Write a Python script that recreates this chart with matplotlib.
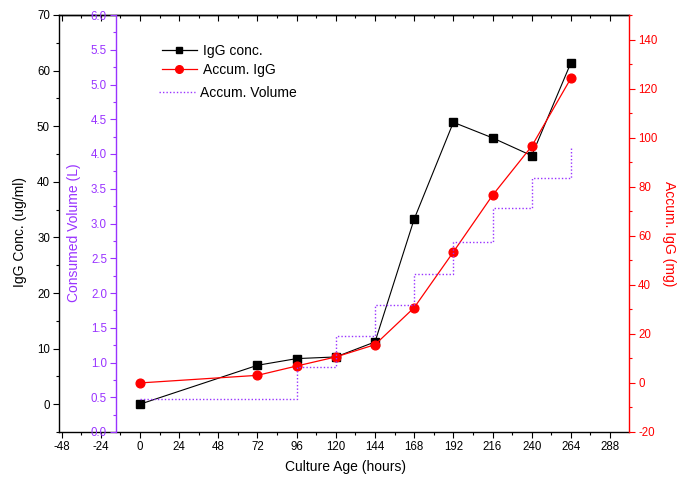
import matplotlib
matplotlib.use('Agg')
import matplotlib.pyplot as plt
from matplotlib.ticker import MultipleLocator, FormatStrFormatter
from matplotlib.lines import Line2D

plt.rcParams['font.family'] = ['Liberation Sans', 'DejaVu Sans']
plt.rcParams['axes.unicode_minus'] = False

# ---- data ----
hours = [0, 72, 96, 120, 144, 168, 192, 216, 240, 264]
igg_conc = [0, 7.0, 8.2, 8.5, 11.2, 33.3, 50.7, 47.9, 44.7, 61.4]
accum_igg = [0, 3.1, 6.9, 10.6, 15.6, 30.7, 53.4, 76.5, 96.5, 124.2]
vol_hours = [0, 96, 120, 144, 168, 192, 216, 240, 264]
accum_volume = [0.48, 0.93, 1.38, 1.83, 2.28, 2.73, 3.22, 3.66, 4.10]
x_ticks = [-48, -24, 0, 24, 48, 72, 96, 120, 144, 168, 192, 216, 240, 264, 288]

PURPLE = '#9933FF'
RED = '#FF0000'
FS_TICK = 8.3
FS_LAB = 10

fig = plt.figure(figsize=(6.78, 4.82), dpi=100)
ax = fig.add_axes([59/678, 50/482, 570/678, 417/482])
axr = ax.twinx()
axv = ax.twinx()

# main (black) axis
ax.plot(hours, igg_conc, color='black', lw=0.8, marker='s', ms=5.3,
        mfc='black', mec='black', zorder=3)
ax.set_xlim(-49.6, 299.6)
ax.set_ylim(-5, 70)
ax.set_xticks(x_ticks)
ax.xaxis.set_minor_locator(MultipleLocator(12))
ax.yaxis.set_major_locator(MultipleLocator(10))
ax.yaxis.set_minor_locator(MultipleLocator(5))
ax.tick_params(axis='both', which='major', direction='out', length=4, width=0.8,
               labelsize=FS_TICK, pad=2.5, right=False, top=False)
ax.tick_params(axis='both', which='minor', direction='out', length=2.5, width=0.8,
               right=False, top=False)
for s in ['left', 'bottom', 'top']:
    ax.spines[s].set_linewidth(1.0)
ax.spines['right'].set_visible(False)
ax.set_xlabel('Culture Age (hours)', fontsize=FS_LAB)
ax.xaxis.set_label_coords(0.502, -0.068)
ax.set_ylabel('IgG Conc. (ug/ml)', fontsize=FS_LAB)
ax.yaxis.set_label_coords(-0.056, 0.48)

# top ticks (inward)
sec = ax.secondary_xaxis('top')
sec.set_xticks(x_ticks)
sec.xaxis.set_minor_locator(MultipleLocator(12))
sec.tick_params(which='major', direction='in', length=4, width=0.8, labeltop=False)
sec.tick_params(which='minor', direction='in', length=2.5, width=0.8)
sec.spines['top'].set_linewidth(1.0)

# red axis (right)
axr.plot(hours, accum_igg, color=RED, lw=0.9, marker='o', ms=6.3,
         mfc=RED, mec=RED, zorder=4)
axr.set_ylim(-20, 150)
axr.yaxis.set_major_locator(MultipleLocator(20))
axr.yaxis.set_minor_locator(MultipleLocator(10))
axr.tick_params(axis='y', which='major', direction='out', length=4, width=0.8,
                colors=RED, labelsize=FS_TICK, pad=2.5)
axr.tick_params(axis='y', which='minor', direction='out', length=2.5, width=0.8,
                colors=RED)
for s in ['left', 'top', 'bottom']:
    axr.spines[s].set_visible(False)
axr.spines['right'].set_color(RED)
axr.spines['right'].set_linewidth(1.0)
axr.set_ylabel('Accum. IgG (mg)', fontsize=FS_LAB, color=RED, rotation=270,
               va='center')
axr.yaxis.set_label_coords(1.071, 0.476)

# purple axis (inner left)
axv.plot(vol_hours, accum_volume, color=PURPLE, lw=1.0, ls=(0, (1, 1.5)),
         drawstyle='steps-post', zorder=2)
axv.set_ylim(0, 6)
axv.yaxis.set_label_position('left')
axv.yaxis.set_ticks_position('left')
axv.spines['left'].set_position(('axes', 0.1))
for s in ['right', 'top', 'bottom']:
    axv.spines[s].set_visible(False)
axv.spines['left'].set_visible(True)
axv.spines['left'].set_color(PURPLE)
axv.spines['left'].set_linewidth(1.0)
axv.yaxis.set_major_locator(MultipleLocator(0.5))
axv.yaxis.set_minor_locator(MultipleLocator(0.25))
axv.yaxis.set_major_formatter(FormatStrFormatter('%.1f'))
axv.tick_params(axis='y', which='major', direction='out', length=4, width=0.8,
                colors=PURPLE, labelsize=FS_TICK, pad=2.5)
axv.tick_params(axis='y', which='minor', direction='out', length=2.5, width=0.8,
                colors=PURPLE)
axv.set_ylabel('Consumed Volume (L)', fontsize=FS_LAB, color=PURPLE)
axv.yaxis.set_label_coords(0.0386, 0.477)

# legend (two blocks to mimic the wider gap before the last entry)
h1 = [
    Line2D([], [], color='black', lw=0.9, marker='s', ms=4.5),
    Line2D([], [], color=RED, lw=0.9, marker='o', ms=5.5),
]
l1 = ['IgG conc.', 'Accum. IgG']
fig.legend(h1, l1, loc='upper left', bbox_to_anchor=(162/678, 1 - 44/482),
           frameon=False, fontsize=FS_LAB, handlelength=2.5, handletextpad=0.45,
           labelspacing=0.38, borderpad=0, borderaxespad=0)
h2 = [Line2D([], [], color=PURPLE, lw=1.0, ls=(0, (1, 1.5)))]
l2 = ['Accum. Volume']
fig.legend(h2, l2, loc='upper left', bbox_to_anchor=(159/678, 1 - 86/482),
           frameon=False, fontsize=FS_LAB, handlelength=2.6, handletextpad=0.35,
           borderpad=0, borderaxespad=0)

fig.savefig('out.png', dpi=100)
